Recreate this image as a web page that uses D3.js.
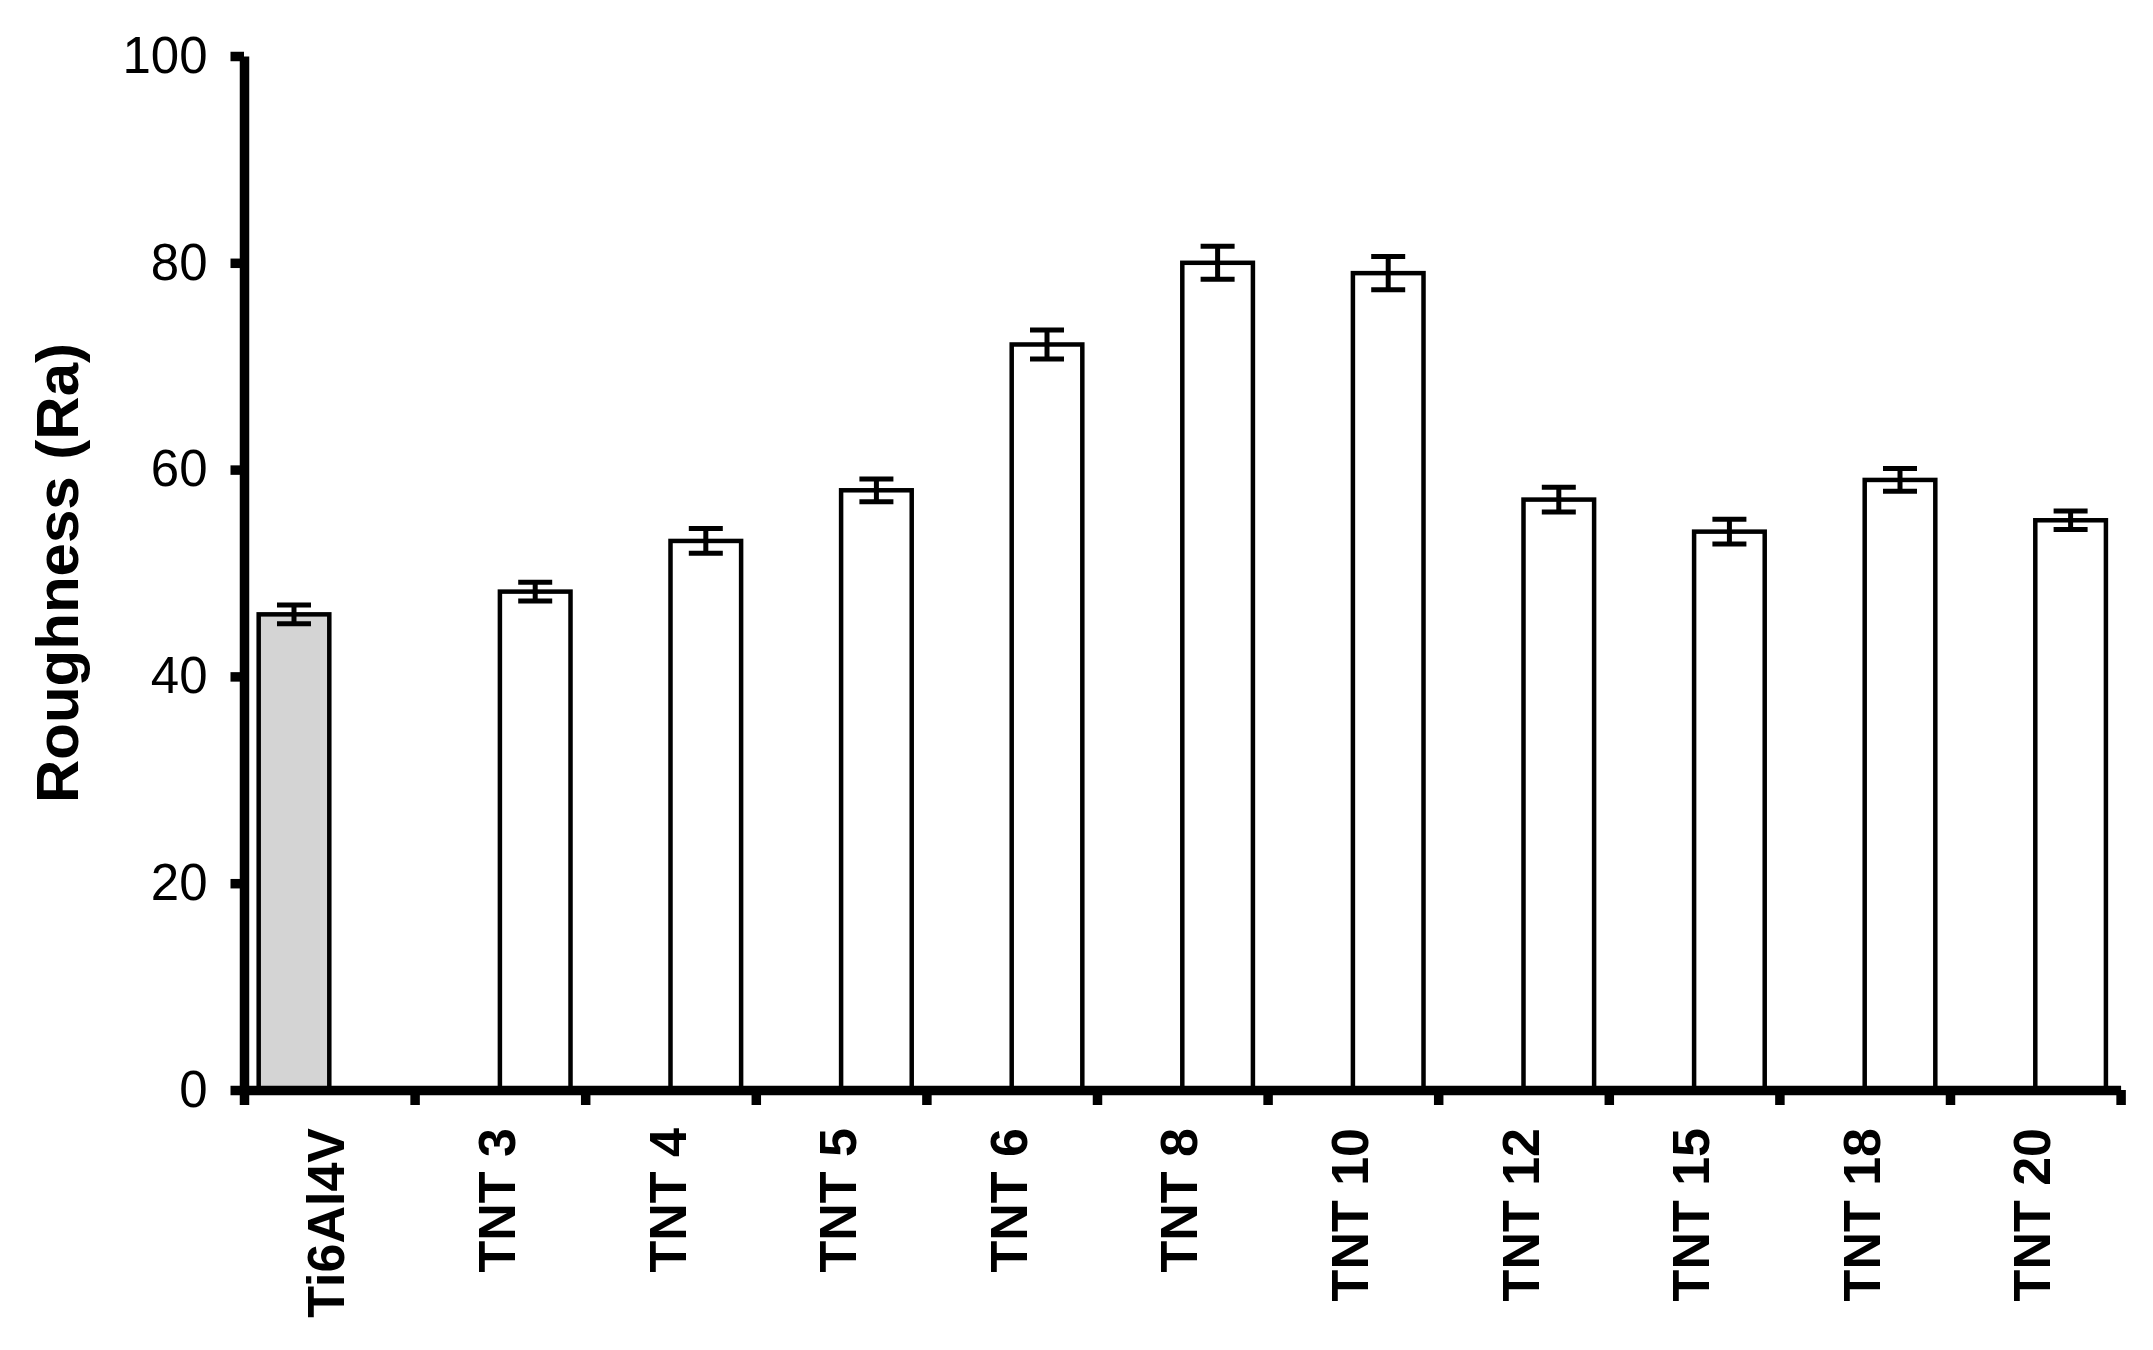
<!DOCTYPE html>
<html><head><meta charset="utf-8">
<script src="https://cdn.jsdelivr.net/npm/d3@7"></script>
<style>
body{margin:0;background:#fff}
text{font-family:"Liberation Sans",Arial,Helvetica,sans-serif;fill:#000}
</style>
</head><body>
<svg id="chart" width="2153" height="1350"></svg>
<script>
// ---- data ----
const categories = ["Ti6Al4V","TNT 3","TNT 4","TNT 5","TNT 6","TNT 8","TNT 10","TNT 12","TNT 15","TNT 18","TNT 20"];
const seriesNames = ["control","TNT"];
const seriesOf = ["control","TNT","TNT","TNT","TNT","TNT","TNT","TNT","TNT","TNT","TNT"];
const roughness = [46.0, 48.2, 53.1, 58.0, 72.1, 80.0, 79.0, 57.1, 54.0, 59.0, 55.1];
const errors = [0.9, 0.9, 1.2, 1.1, 1.4, 1.6, 1.6, 1.2, 1.2, 1.1, 0.9];
const yTicks = [0, 20, 40, 60, 80, 100];
const yTitle = "Roughness (Ra)";
const seriesFill = {control: "#d4d4d4", TNT: "#ffffff"};

// ---- layout ----
const svg = d3.select("#chart");
svg.append("rect").attr("width", 2153).attr("height", 1350).attr("fill", "#fff");

const x0 = 244, x1 = 2120.6, yBase = 1090, yTop = 56;
const x = d3.scaleBand().domain(categories).range([x0, x1]).padding(0);
const xIdx = d3.scaleLinear().domain([0, categories.length]).range([x0, x1]);
const xInner = d3.scaleBand().domain(seriesNames).range([0, x.bandwidth()]).paddingInner(0).paddingOuter(0.208);
const y = d3.scaleLinear().domain([0, 100]).range([yBase, yTop]);

const data = categories.map((c, i) => ({cat: c, s: seriesOf[i], v: roughness[i], e: errors[i]}));

// bars
svg.append("g").selectAll("rect").data(data).join("rect")
  .attr("x", d => x(d.cat) + xInner(d.s))
  .attr("y", d => y(d.v))
  .attr("width", xInner.bandwidth())
  .attr("height", d => y(0) - y(d.v))
  .attr("fill", d => seriesFill[d.s])
  .attr("stroke", "#000")
  .attr("stroke-width", 4.5);

// error bars
const eb = svg.append("g").selectAll("g").data(data).join("g")
  .attr("transform", d => `translate(${x(d.cat) + xInner(d.s) + xInner.bandwidth() / 2},0)`);
eb.append("line").attr("x1", 0).attr("x2", 0)
  .attr("y1", d => y(d.v - d.e)).attr("y2", d => y(d.v + d.e))
  .attr("stroke", "#000").attr("stroke-width", 5);
eb.append("line").attr("x1", -17).attr("x2", 17)
  .attr("y1", d => y(d.v + d.e)).attr("y2", d => y(d.v + d.e))
  .attr("stroke", "#000").attr("stroke-width", 5);
eb.append("line").attr("x1", -17).attr("x2", 17)
  .attr("y1", d => y(d.v - d.e)).attr("y2", d => y(d.v - d.e))
  .attr("stroke", "#000").attr("stroke-width", 5);

// y axis
const gy = svg.append("g").attr("transform", `translate(${x0},0)`)
  .call(d3.axisLeft(y).tickValues(yTicks).tickFormat(d3.format("d")).tickSize(13.5).tickSizeOuter(0).tickPadding(23));
gy.select(".domain").attr("stroke", "#000").attr("stroke-width", 9.5);
gy.selectAll(".tick line").attr("stroke", "#000").attr("stroke-width", 9.5);
gy.selectAll(".tick text").attr("font-size", 51).attr("fill", "#000");

// x axis (boundary ticks)
const gx = svg.append("g").attr("transform", `translate(0,${yBase})`)
  .call(d3.axisBottom(xIdx).tickValues(d3.range(categories.length + 1)).tickFormat("").tickSize(15).tickSizeOuter(0));
gx.select(".domain").attr("stroke", "#000").attr("stroke-width", 9.5);
gx.selectAll(".tick line").attr("stroke", "#000").attr("stroke-width", 9.5);

// x labels
const gl = svg.append("g").attr("transform", `translate(0,${yBase})`)
  .call(d3.axisBottom(x).tickSize(0).tickPadding(0));
gl.select(".domain").remove();
gl.selectAll(".tick text")
  .attr("font-size", 52).attr("font-weight", "bold")
  .attr("text-anchor", "end")
  .attr("transform", "translate(0,38) rotate(-90)")
  .attr("x", 0).attr("y", 0).attr("dy", "0.29em");

// y title
svg.append("text")
  .attr("transform", `translate(57,${(yBase + yTop) / 2}) rotate(-90)`)
  .attr("text-anchor", "middle").attr("dy", "0.35em")
  .attr("font-size", 60).attr("font-weight", "bold")
  .text(yTitle);
</script>
</body></html>
